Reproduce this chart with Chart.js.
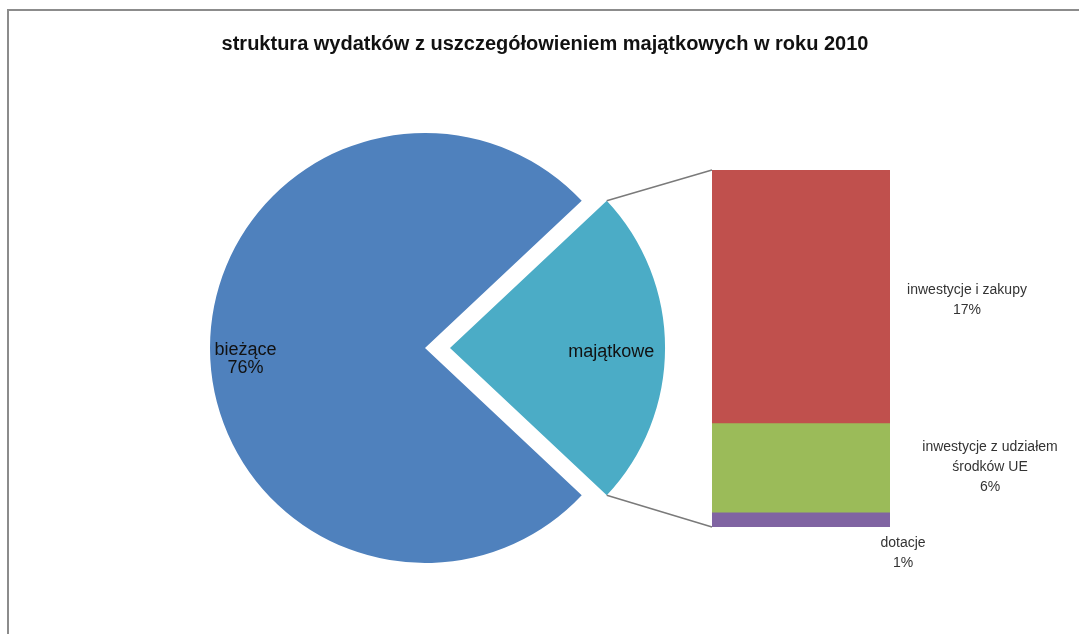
<!DOCTYPE html>
<html>
<head>
<meta charset="utf-8">
<script src="https://cdn.jsdelivr.net/npm/chart.js@4/dist/chart.umd.min.js"></script>
<style>
  html, body { margin: 0; padding: 0; background: #fff; }
  #wrap { position: relative; width: 1079px; height: 634px; overflow: hidden; }
  #frame { position: absolute; left: 7px; top: 9px; width: 1200px; height: 800px;
           border-left: 2px solid #8c8c8c; border-top: 2px solid #8c8c8c; }
  canvas { position: absolute; left: 0; top: 0; }
</style>
</head>
<body>
<div id="wrap">
  <div id="frame"></div>
  <canvas id="pieChart" width="1079" height="634"></canvas>
  <canvas id="barChart" width="1079" height="634"></canvas>
</div>
<script>
// data
const chartTitle = 'struktura wydatków z uszczegółowieniem majątkowych w roku 2010';
const pieLabels = ['bieżące', 'majątkowe'];
const pieValues = [76, 24];
const pieShowPct = [true, false];
const barLabels = [['inwestycje i zakupy'], ['inwestycje z udziałem', 'środków UE'], ['dotacje']];
const barValues = [17, 6, 1];

// styles
const pieColors = ['#4F81BD', '#4BACC6'];
const barColors = ['#C0504D', '#9BBB59', '#8064A2'];
const FONT = '"Liberation Sans", Arial, sans-serif';
const pieLabelRadius = [0.835, 0.75];
const pieLabelShift = [11, 4];
const barLabelOffsets = [{dx: 77, dy: 4}, {dx: 100, dy: 0}, {dx: 13, dy: 34}];

// rotate so the exploded slice points right
const pieTotal = pieValues.reduce((a, b) => a + b, 0);
const rotation = 90 - (360 * pieValues[0] / pieTotal + 180 * pieValues[1] / pieTotal);

function drawLines(ctx, lines, x, y, lh) {
  const y0 = y - (lines.length - 1) * lh / 2;
  lines.forEach((t, i) => ctx.fillText(t, x, y0 + i * lh));
}

const pieLabelPlugin = {
  id: 'pieLabels',
  afterDraw(chart) {
    const ctx = chart.ctx;
    ctx.save();
    ctx.textAlign = 'center';
    ctx.textBaseline = 'middle';
    ctx.fillStyle = '#111';
    ctx.font = 'bold 20px ' + FONT;
    ctx.fillText(chartTitle, 545, 44);

    ctx.font = '18px ' + FONT;
    chart.getDatasetMeta(0).data.forEach((arc, i) => {
      const mid = (arc.startAngle + arc.endAngle) / 2;
      const off = (arc.options.offset || 0) / 4;
      const r = arc.outerRadius * pieLabelRadius[i];
      const x = arc.x + Math.cos(mid) * (off + r);
      const y = arc.y + Math.sin(mid) * (off + r) + pieLabelShift[i];
      const lines = [pieLabels[i]];
      if (pieShowPct[i]) lines.push(Math.round(pieValues[i] / pieTotal * 100) + '%');
      drawLines(ctx, lines, x, y, 18);
    });
    ctx.restore();
  }
};

const pieChart = new Chart(document.getElementById('pieChart'), {
  type: 'pie',
  data: {
    labels: pieLabels,
    datasets: [{
      data: pieValues,
      backgroundColor: pieColors,
      borderWidth: 0,
      offset: [0, 100],
      radius: 215
    }]
  },
  options: {
    responsive: false,
    animation: false,
    devicePixelRatio: 1,
    rotation: rotation,
    layout: { padding: { left: 197, right: 426, top: 120, bottom: 58 } },
    plugins: { legend: { display: false }, tooltip: { enabled: false } }
  },
  plugins: [pieLabelPlugin]
});

const barExtrasPlugin = {
  id: 'barExtras',
  afterDatasetsDraw(chart) {
    const ctx = chart.ctx;
    const bars = chart.data.datasets.map((d, i) => chart.getDatasetMeta(i).data[0]);
    const first = bars[0], last = bars[bars.length - 1];
    const left = first.x - first.width / 2;
    const right = first.x + first.width / 2;
    const top = Math.min(first.y, first.base);
    const bottom = Math.max(last.y, last.base);

    // connector lines from the exploded slice to the bar
    const arc = pieChart.getDatasetMeta(0).data[1];
    const mid = (arc.startAngle + arc.endAngle) / 2;
    const off = (arc.options.offset || 0) / 4;
    const cx = arc.x + Math.cos(mid) * off;
    const cy = arc.y + Math.sin(mid) * off;
    const R = arc.outerRadius;
    ctx.save();
    ctx.strokeStyle = '#7a7a7a';
    ctx.lineWidth = 1.5;
    ctx.beginPath();
    ctx.moveTo(cx + R * Math.cos(arc.startAngle), cy + R * Math.sin(arc.startAngle));
    ctx.lineTo(left, top);
    ctx.moveTo(cx + R * Math.cos(arc.endAngle), cy + R * Math.sin(arc.endAngle));
    ctx.lineTo(left, bottom);
    ctx.stroke();

    // segment labels
    ctx.font = '14px ' + FONT;
    ctx.fillStyle = '#333';
    ctx.textAlign = 'center';
    ctx.textBaseline = 'middle';
    bars.forEach((b, i) => {
      const segMid = (b.y + b.base) / 2;
      const lines = barLabels[i].concat([barValues[i] + '%']);
      drawLines(ctx, lines, right + barLabelOffsets[i].dx, segMid + barLabelOffsets[i].dy, 20);
    });
    ctx.restore();
  }
};

new Chart(document.getElementById('barChart'), {
  type: 'bar',
  data: {
    labels: [pieLabels[1]],
    datasets: barValues.map((v, i) => ({
      label: barLabels[i].join(' '),
      data: [v],
      backgroundColor: barColors[i],
      borderWidth: 0,
      barPercentage: 1,
      categoryPercentage: 1
    }))
  },
  options: {
    responsive: false,
    animation: false,
    devicePixelRatio: 1,
    layout: { padding: { left: 712, right: 189, top: 170, bottom: 107 } },
    scales: {
      x: { stacked: true, display: false },
      y: { stacked: true, display: false, reverse: true, min: 0, max: barValues.reduce((a, b) => a + b, 0) }
    },
    plugins: { legend: { display: false }, tooltip: { enabled: false } }
  },
  plugins: [barExtrasPlugin]
});
</script>
</body>
</html>
